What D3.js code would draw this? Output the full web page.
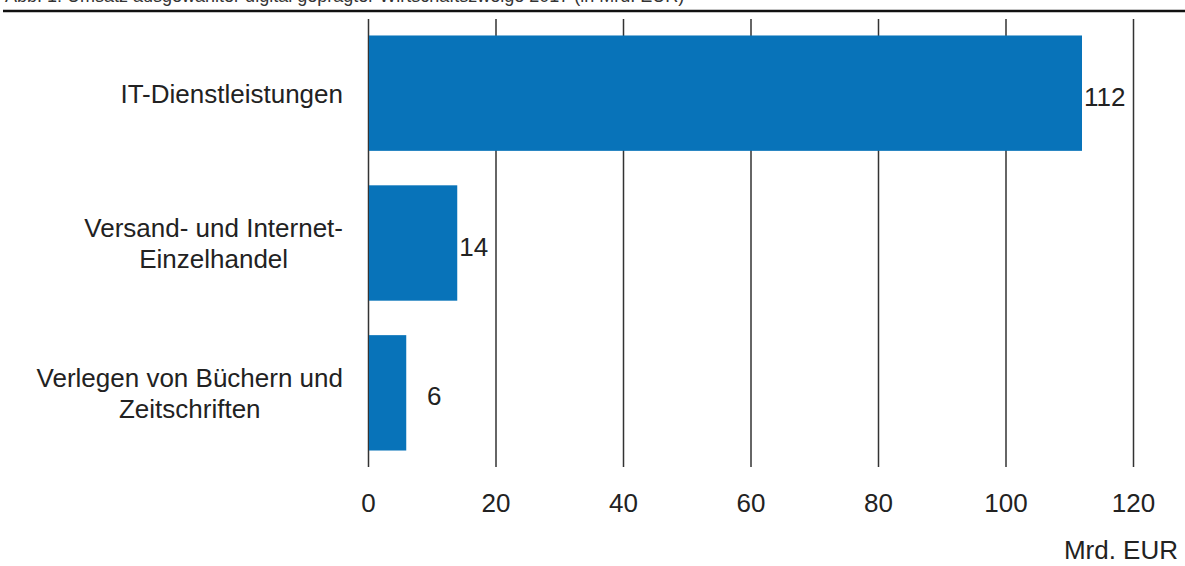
<!DOCTYPE html>
<html>
<head>
<meta charset="utf-8">
<script src="https://cdn.jsdelivr.net/npm/d3@7"></script>
<style>
  html, body { margin: 0; padding: 0; background: #fff; }
  svg { display: block; font-family: "Liberation Sans", Arial, sans-serif; }
</style>
</head>
<body>
<svg id="chart" width="1185" height="566"></svg>
<script>
// Umsatz je Wirtschaftszweig in Mrd. EUR
const categories = [
  ["IT-Dienstleistungen"],
  ["Versand- und Internet-", "Einzelhandel"],
  ["Verlegen von Büchern und", "Zeitschriften"]
];
const values = [112, 14, 6];
const tickValues = [0, 20, 40, 60, 80, 100, 120];
const unitLabel = "Mrd. EUR";
const titleText = "Abb. 1: Umsatz ausgewählter digital geprägter Wirtschaftszweige 2017 (in Mrd. EUR)";

const svg = d3.select("#chart");
const W = 1185, H = 566;
const barColor = "#0873b9";
const textColor = "#222";
const fontSize = 26;

const x = d3.scaleLinear().domain([0, 120]).range([368, 1133]);
const y = d3.scaleBand()
  .domain(d3.range(values.length))
  .range([19, 467])
  .paddingInner(0.23)
  .paddingOuter(0.11);

// Title runs above the top edge; the rule sits just beneath it
svg.append("text")
  .attr("x", 5).attr("y", 2)
  .attr("font-size", 18)
  .attr("fill", "#333")
  .text(titleText);
svg.append("line")
  .attr("x1", 3).attr("x2", W)
  .attr("y1", 11).attr("y2", 11)
  .attr("stroke", "#111").attr("stroke-width", 2.4);

// Vertical gridlines via the axis generator
const grid = svg.append("g")
  .attr("transform", `translate(0,${y.range()[1]})`)
  .call(d3.axisBottom(x).tickValues(tickValues)
    .tickSize(-(y.range()[1] - y.range()[0]))
    .tickFormat(""));
grid.select(".domain").remove();
grid.selectAll(".tick line").attr("stroke", "#333").attr("stroke-width", 1.5);

// Tick labels
const axis = svg.append("g")
  .attr("transform", `translate(0,${y.range()[1]})`)
  .call(d3.axisBottom(x).tickValues(tickValues).tickSize(0).tickPadding(0));
axis.select(".domain").remove();
axis.selectAll(".tick text")
  .attr("y", 45).attr("dy", 0)
  .attr("font-size", fontSize)
  .attr("font-family", "Liberation Sans, Arial, sans-serif")
  .attr("fill", textColor);

// Bars
svg.append("g").selectAll("rect")
  .data(values)
  .join("rect")
  .attr("x", x(0) + 1)
  .attr("y", (d, i) => y(i))
  .attr("width", d => x(d) - x(0) - 1)
  .attr("height", y.bandwidth())
  .attr("fill", barColor);

// Value labels
svg.append("g").selectAll("text")
  .data(values)
  .join("text")
  .attr("x", d => Math.max(x(d) + 2, x(0) + 59))
  .attr("y", (d, i) => y(i) + y.bandwidth() / 2 + 12.5)
  .attr("font-size", fontSize)
  .attr("fill", textColor)
  .text(d => d);

// Category labels: block right-aligned, lines centred within the block
const lineH = 31.3;
const labelRight = 343;
const catG = svg.append("g");
categories.forEach((lines, i) => {
  const t = catG.append("text")
    .attr("font-size", fontSize)
    .attr("fill", textColor)
    .attr("text-anchor", "middle");
  const cy = y(i) + y.bandwidth() / 2;
  const spans = lines.map((ln, k) => t.append("tspan")
    .attr("y", cy + (k - (lines.length - 1) / 2) * lineH + 9.5)
    .text(ln));
  const widths = spans.map(s => s.node().getComputedTextLength());
  const maxW = d3.max(widths);
  const centre = labelRight - maxW / 2;
  spans.forEach(s => s.attr("x", centre));
});

// Unit label
svg.append("text")
  .attr("x", 1178).attr("y", 559)
  .attr("text-anchor", "end")
  .attr("font-size", fontSize)
  .attr("fill", textColor)
  .text(unitLabel);
</script>
</body>
</html>
